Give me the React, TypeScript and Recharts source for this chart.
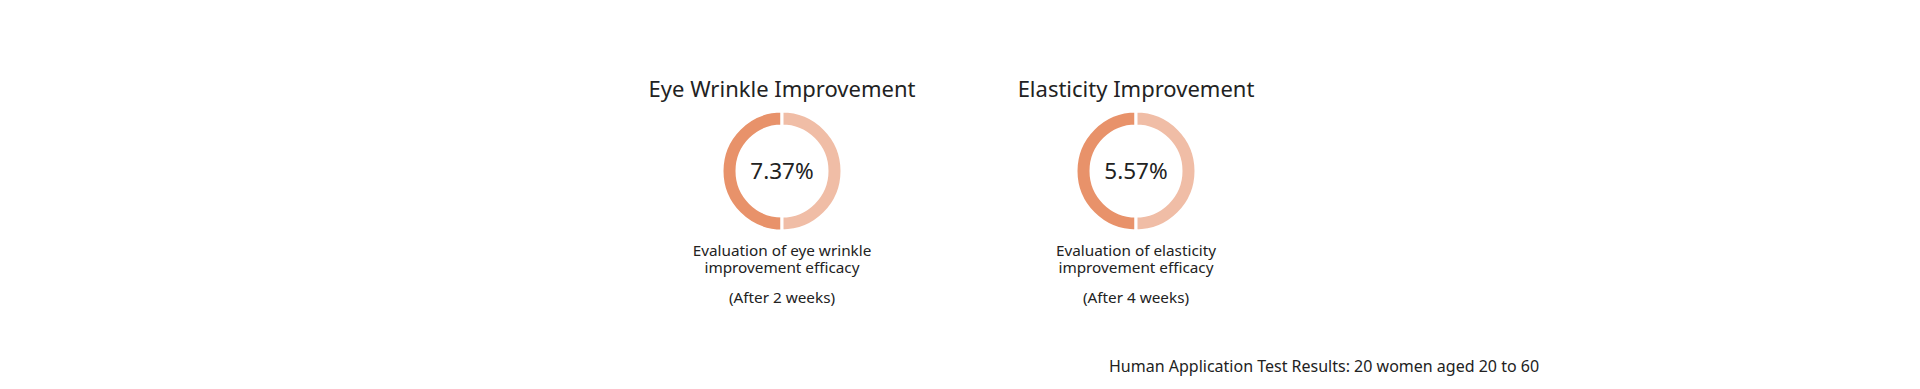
import { Pie, PieChart, Cell, Label } from "recharts";

const titles = ["Eye Wrinkle Improvement", "Elasticity Improvement"];
const values = [7.37, 5.57];
const descLine1 = ["Evaluation of eye wrinkle", "Evaluation of elasticity"];
const descLine2 = ["improvement efficacy", "improvement efficacy"];
const periods = ["(After 2 weeks)", "(After 4 weeks)"];
const halves = [
  { name: "left", share: 50 },
  { name: "right", share: 50 },
];
const sliceColors = ["#E8926A", "#F0BDA6"];
const footnote = "Human Application Test Results: 20 women aged 20 to 60";

const FONT = '"Noto Sans", "Noto Sans CJK KR", sans-serif';
const centers = [782, 1136];

function Panel({ index }: { index: number }) {
  const cx = centers[index];
  return (
    <>
      <div
        style={{
          position: "absolute",
          left: cx - 200,
          width: 400,
          top: 75,
          textAlign: "center",
          fontSize: 22,
          lineHeight: "27px",
          color: "#222",
        }}
      >
        {titles[index]}
      </div>

      <div style={{ position: "absolute", left: cx - 65, top: 106 }}>
        <PieChart width={130} height={130}>
          <Pie
            data={halves}
            dataKey="share"
            nameKey="name"
            cx="50%"
            cy="50%"
            innerRadius={45}
            outerRadius={60}
            startAngle={90}
            endAngle={450}
            stroke="#ffffff"
            strokeWidth={3}
            isAnimationActive={false}
          >
            {halves.map((h, i) => (
              <Cell key={h.name} fill={sliceColors[i]} />
            ))}
            <Label
              value={`${values[index].toFixed(2)}%`}
              position="center"
              fill="#222"
              fontSize={22.5}
              fontFamily={FONT}
            />
          </Pie>
        </PieChart>
      </div>

      <div
        style={{
          position: "absolute",
          left: cx - 200,
          width: 400,
          top: 242,
          textAlign: "center",
          fontSize: 15.3,
          lineHeight: "17px",
          color: "#222",
        }}
      >
        <div>{descLine1[index]}</div>
        <div>{descLine2[index]}</div>
        <div style={{ marginTop: 13 }}>{periods[index]}</div>
      </div>
    </>
  );
}

export default function App() {
  return (
    <div
      style={{
        position: "absolute",
        left: 0,
        top: 0,
        width: 1920,
        height: 389,
        background: "#ffffff",
        fontFamily: FONT,
        overflow: "hidden",
      }}
    >
      <Panel index={0} />
      <Panel index={1} />
      <div
        style={{
          position: "absolute",
          left: 1109,
          top: 356,
          fontSize: 16,
          lineHeight: "20px",
          color: "#222",
          whiteSpace: "nowrap",
        }}
      >
        {footnote}
      </div>
    </div>
  );
}
